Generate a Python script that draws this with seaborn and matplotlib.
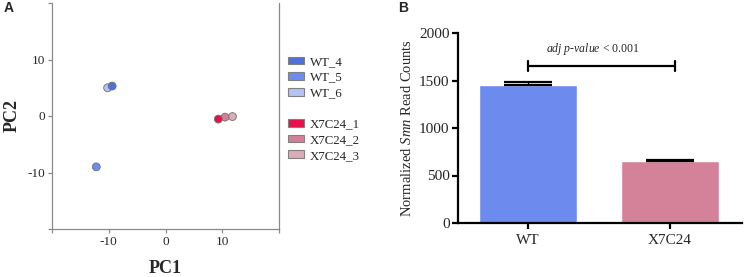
import matplotlib
matplotlib.use("Agg")
import matplotlib.pyplot as plt
from matplotlib.patches import Patch
import seaborn as sns
import pandas as pd

sns.set_theme(style="white")
plt.rcParams['font.family'] = ['Liberation Serif', 'DejaVu Serif']
plt.rcParams['mathtext.fontset'] = 'custom'
plt.rcParams['mathtext.rm'] = 'Liberation Serif'
plt.rcParams['mathtext.it'] = 'Liberation Serif:italic'

# ---- data: PCA panel ----
samples = ["WT_4", "WT_5", "WT_6", "X7C24_1", "X7C24_2", "X7C24_3"]
pc1 = [-9.4, -12.2, -10.2, 9.3, 10.5, 11.8]
pc2 = [5.3, -9.0, 5.0, -0.55, -0.2, -0.1]
sample_colors = ["#4f70d8", "#6d8cf0", "#b4c3f4", "#e8104c", "#d37f98", "#dcabb8"]
draw_order = ["WT_6", "WT_5", "WT_4", "X7C24_3", "X7C24_2", "X7C24_1"]

# ---- data: bar panel ----
groups = ["WT", "X7C24"]
means = [1452, 652]
sems = [27, 6]
bar_colors = ["#6d8bef", "#d4829a"]

axis_ticks = [-20, -10, 0, 10, 20]
axis_ticklabels = ["", "-10", "0", "10", ""]
bar_yticks = [0, 500, 1000, 1500, 2000]

W, H = 744, 277
fig = plt.figure(figsize=(W / 100, H / 100), dpi=100)

# ================= Panel A =================
axA = fig.add_axes([52 / W, 1 - 229 / H, (279 - 52) / W, (229 - 3) / H])
df = pd.DataFrame({"sample": samples, "PC1": pc1, "PC2": pc2})
df = df.set_index("sample").loc[draw_order].reset_index()
pal = dict(zip(samples, sample_colors))
sns.scatterplot(data=df, x="PC1", y="PC2", hue="sample", palette=pal, s=32,
                edgecolor="#707070", linewidth=0.6, legend=False, ax=axA, zorder=3)
axA.set_xlim(-20, 20)
axA.set_ylim(-20, 20)
axA.set_xticks(axis_ticks)
axA.set_xticklabels(axis_ticklabels)
axA.set_yticks(axis_ticks)
axA.set_yticklabels(axis_ticklabels)
for side in ["left", "bottom", "right"]:
    axA.spines[side].set_color("#8a8a8a")
    axA.spines[side].set_linewidth(0.9)
axA.spines["top"].set_visible(False)
axA.tick_params(axis="both", direction="out", length=3, width=0.9, color="#8a8a8a",
                labelsize=9.5, pad=2, bottom=True, left=True)
axA.set_xlabel("PC1", fontsize=13, fontweight="bold", labelpad=9)
axA.set_ylabel("PC2", fontsize=13, fontweight="bold", labelpad=5)

handles = []
labels = []
for i, (s, c) in enumerate(zip(samples, sample_colors)):
    if i == 3:
        handles.append(Patch(facecolor="none", edgecolor="none"))
        labels.append(" ")
    handles.append(Patch(facecolor=c, edgecolor="#808080", linewidth=0.8))
    labels.append(s)
fig.legend(handles, labels, loc="upper left", bbox_to_anchor=(288 / W, 1 - 56 / H),
           frameon=False, fontsize=9.3, handlelength=1.25, handleheight=0.55,
           handletextpad=0.45, labelspacing=0.28, borderaxespad=0, borderpad=0)

fig.text(4 / W, 1 - 8 / H, "A", fontsize=10, fontweight="bold",
         family="Liberation Sans", va="center", ha="left")

# ================= Panel B =================
axB = fig.add_axes([458 / W, 1 - 223 / H, (742 - 458) / W, (223 - 33) / H])
dfb = pd.DataFrame({"group": groups, "count": means})
sns.barplot(data=dfb, x="group", y="count", hue="group",
            palette=dict(zip(groups, bar_colors)), saturation=1, width=0.69,
            errorbar=None, legend=False, ax=axB, zorder=2)
axB.errorbar(x=[0, 1], y=means, yerr=[[0, 0], sems], fmt="none", ecolor="black",
             elinewidth=1.0, capsize=17, capthick=1.6, zorder=3)
axB.set_xlim(-0.49, 1.51)
axB.set_ylim(0, 2000)
axB.set_yticks(bar_yticks)
axB.set_yticklabels([str(v) for v in bar_yticks])
for side in ["top", "right"]:
    axB.spines[side].set_visible(False)
for side in ["left", "bottom"]:
    axB.spines[side].set_color("black")
    axB.spines[side].set_linewidth(1.6)
axB.tick_params(axis="both", direction="out", length=4, width=1.6, color="black",
                labelsize=11, pad=2, bottom=True, left=True)
axB.tick_params(axis="x", labelsize=11, pad=4)
axB.set_xlabel("")
axB.set_ylabel(r"Normalized $Smn$ Read Counts", fontsize=10.5, labelpad=4)

# significance bracket
axB.plot([0, 1.04], [1653, 1653], color="black", lw=1.6, solid_capstyle="butt")
axB.plot([0, 0], [1600, 1705], color="black", lw=1.6)
axB.plot([1.04, 1.04], [1600, 1705], color="black", lw=1.6)
axB.text(0.46, 1830, r"$adj$ $p$-$value$ < 0.001", fontsize=8.5, ha="center", va="center")

fig.text(398 / W, 1 - 8 / H, "B", fontsize=10, fontweight="bold",
         family="Liberation Sans", va="center", ha="left")

fig.savefig("out.png", dpi=100, facecolor="white")
